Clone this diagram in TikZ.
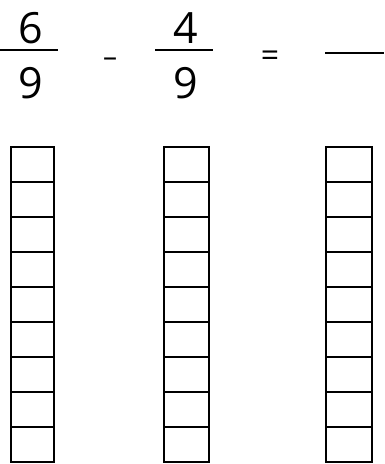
\documentclass[tikz,border=0pt]{standalone}
\usepackage{fontspec}
\setmainfont{Open Sans}
\usetikzlibrary{positioning}

\begin{document}
\begin{tikzpicture}[x=1pt, y=-1pt,
    digit/.style={font=\fontsize{43}{46}\selectfont, inner sep=0pt, anchor=base},
    sign/.style={inner sep=0pt, anchor=base},
    fracbar/.style={line width=1.6pt},
    cell/.style={draw, line width=1.6pt}]
  \useasboundingbox (0,0) rectangle (384,464);
  % first fraction
  \node[digit] (numA) at (31,43) {6};
  \node[digit] (denA) at (31,98) {9};
  \coordinate (barAl) at (0,50);
  \coordinate (barAr) at (58,50);
  \draw[fracbar] (barAl) -- (barAr);
  \node[sign, font=\fontsize{28}{30}\selectfont] (minus) at (110,66) {–};
  % second fraction
  \node[digit] (numB) at (186,43) {4};
  \node[digit] (denB) at (186,98) {9};
  \coordinate (barBl) at (155,50);
  \coordinate (barBr) at (213,50);
  \draw[fracbar] (barBl) -- (barBr);
  \node[sign, font=\fontsize{32}{34}\selectfont] (equals) at (270,66) {=};
  % answer
  \coordinate (ansl) at (325,53);
  \coordinate (ansr) at (384,53);
  \draw[line width=2.4pt] (ansl) -- (ansr);
  % bars of ninths
  \foreach \x/\w in {11/43, 164/45, 326/46}
    \foreach \i in {0,...,8}
      \draw[cell] (\x,147+35*\i) rectangle ++(\w,35);
\end{tikzpicture}
\end{document}
